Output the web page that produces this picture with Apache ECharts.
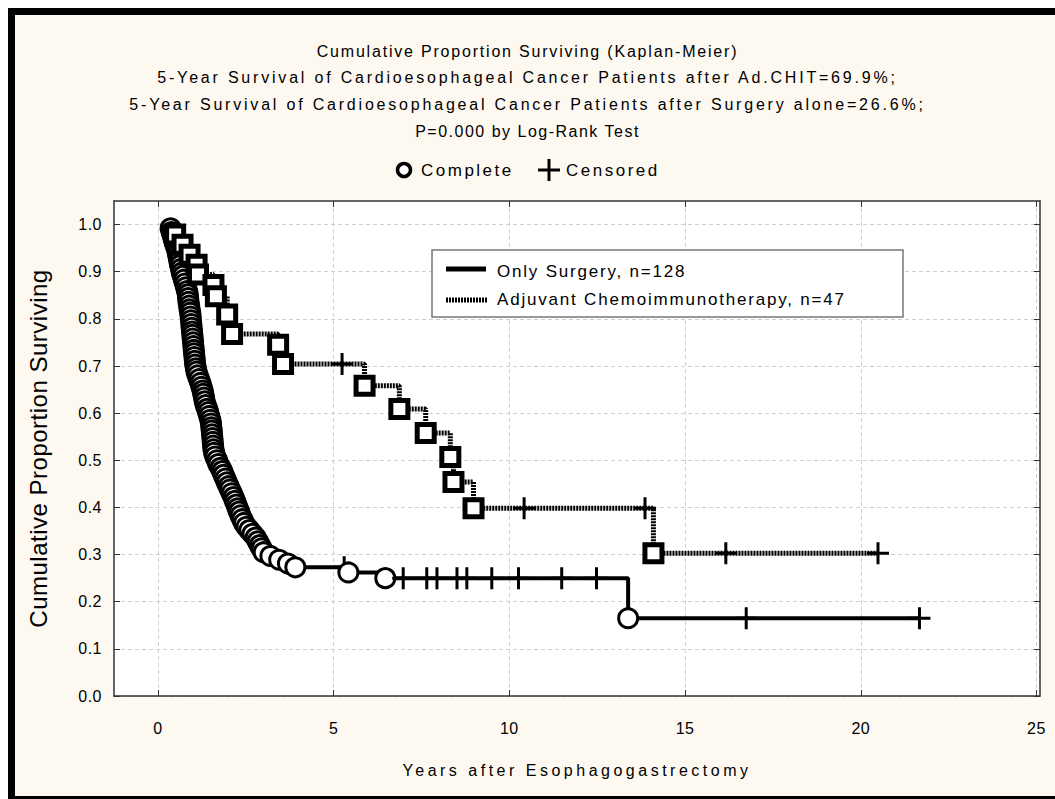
<!DOCTYPE html>
<html>
<head>
<meta charset="utf-8">
<script src="https://cdn.jsdelivr.net/npm/echarts@6/dist/echarts.min.js"></script>
<style>
  html, body { margin: 0; padding: 0; background: #fff; }
  #chart { width: 1055px; height: 799px; }
</style>
</head>
<body>
<div id="chart"></div>
<script>
// Only Surgery, n=128 (years, cumulative proportion surviving, 1 = censored)
const surgeryTime = [
  0.36, 0.39, 0.42, 0.45, 0.48, 0.52, 0.55, 0.57, 0.59, 0.61, 0.63, 0.66, 0.68, 0.71, 0.74, 0.77,
  0.80, 0.83, 0.85, 0.86, 0.87, 0.89, 0.90, 0.92, 0.93, 0.94, 0.95, 0.96, 0.97, 0.98, 0.99, 1.00,
  1.01, 1.02, 1.03, 1.04, 1.05, 1.06, 1.08, 1.10, 1.13, 1.17, 1.21, 1.24, 1.27, 1.29, 1.31, 1.33,
  1.36, 1.40, 1.43, 1.46, 1.49, 1.51, 1.52, 1.53, 1.54, 1.55, 1.56, 1.57, 1.58, 1.60, 1.63, 1.68,
  1.72, 1.78, 1.83, 1.87, 1.92, 1.96, 2.01, 2.05, 2.10, 2.15, 2.19, 2.23, 2.27, 2.31, 2.35, 2.40,
  2.45, 2.52, 2.60, 2.69, 2.78, 2.84, 2.90, 2.95, 3.01, 3.20, 3.45, 3.70, 3.91,
  5.30, 5.42, 6.47, 6.98, 7.65, 7.94, 8.51, 8.79, 9.50, 10.26, 11.49, 12.48, 13.38, 16.74, 21.67
];
const surgerySurv = [
  0.992, 0.984, 0.977, 0.969, 0.961, 0.953, 0.945, 0.938, 0.930, 0.922, 0.914, 0.906, 0.898, 0.891, 0.883, 0.875,
  0.867, 0.859, 0.852, 0.844, 0.836, 0.828, 0.820, 0.813, 0.805, 0.797, 0.789, 0.781, 0.773, 0.766, 0.758, 0.750,
  0.742, 0.734, 0.727, 0.719, 0.711, 0.703, 0.695, 0.688, 0.680, 0.672, 0.664, 0.656, 0.648, 0.641, 0.633, 0.625,
  0.617, 0.609, 0.602, 0.594, 0.586, 0.578, 0.570, 0.563, 0.555, 0.547, 0.539, 0.531, 0.523, 0.516, 0.508, 0.500,
  0.492, 0.484, 0.477, 0.469, 0.461, 0.453, 0.445, 0.438, 0.430, 0.422, 0.414, 0.406, 0.398, 0.391, 0.383, 0.375,
  0.367, 0.359, 0.352, 0.344, 0.336, 0.328, 0.320, 0.313, 0.305, 0.297, 0.289, 0.281, 0.273,
  0.273, 0.262, 0.250, 0.250, 0.250, 0.250, 0.250, 0.250, 0.250, 0.250, 0.250, 0.250, 0.165, 0.165, 0.165
];
const surgeryCensored = [
  0, 0, 0, 0, 0, 0, 0, 0, 0, 0, 0, 0, 0, 0, 0, 0,
  0, 0, 0, 0, 0, 0, 0, 0, 0, 0, 0, 0, 0, 0, 0, 0,
  0, 0, 0, 0, 0, 0, 0, 0, 0, 0, 0, 0, 0, 0, 0, 0,
  0, 0, 0, 0, 0, 0, 0, 0, 0, 0, 0, 0, 0, 0, 0, 0,
  0, 0, 0, 0, 0, 0, 0, 0, 0, 0, 0, 0, 0, 0, 0, 0,
  0, 0, 0, 0, 0, 0, 0, 0, 0, 0, 0, 0, 0,
  1, 0, 0, 1, 1, 1, 1, 1, 1, 1, 1, 1, 0, 1, 1
];

// Adjuvant Chemoimmunotherapy, n=47
const adjuvantTime = [
  0.49, 0.70, 0.90, 1.10, 1.14, 1.58, 1.65, 1.97, 2.11, 3.42, 3.56, 5.24,
  5.88, 6.87, 7.62, 8.32, 8.41, 8.98, 10.42, 13.86, 14.10, 16.16, 20.49
];
const adjuvantSurv = [
  0.979, 0.957, 0.936, 0.915, 0.894, 0.872, 0.848, 0.809, 0.768, 0.745, 0.704, 0.704,
  0.658, 0.609, 0.558, 0.507, 0.454, 0.398, 0.398, 0.398, 0.303, 0.303, 0.303
];
const adjuvantCensored = [
  0, 0, 0, 0, 0, 0, 0, 0, 0, 0, 0, 1,
  0, 0, 0, 0, 0, 0, 1, 1, 0, 1, 1
];

const xTicks = [0, 5, 10, 15, 20, 25];
const yTicks = [0, 0.1, 0.2, 0.3, 0.4, 0.5, 0.6, 0.7, 0.8, 0.9, 1.0];

const titleLines = [
  'Cumulative Proportion Surviving (Kaplan-Meier)',
  '5-Year Survival of Cardioesophageal Cancer Patients after Ad.CHIT=69.9%;',
  '5-Year Survival of Cardioesophageal Cancer Patients after Surgery alone=26.6%;',
  'P=0.000 by Log-Rank Test'
];

const FONT = 'Liberation Sans, Arial, sans-serif';
const PLUS = 'path://M9.5,0h3v9.5h9.5v3h-9.5v9.5h-3v-9.5h-9.5v-3h9.5z';

function points(time, surv, censored, eventSymbol) {
  return time.map((t, i) => censored[i]
    ? { value: [t, surv[i]], symbol: PLUS, symbolSize: 22, itemStyle: { color: '#000', borderWidth: 0 } }
    : { value: [t, surv[i]], symbol: eventSymbol });
}

const chart = echarts.init(document.getElementById('chart'), null, { renderer: 'svg' });

const axisText = { color: '#000', fontFamily: FONT, fontSize: 16 };
const frameAxis = {
  axisLine: { onZero: false, lineStyle: { color: '#333', width: 1.5 } },
  axisLabel: { show: false },
  splitLine: { show: false }
};

chart.setOption({
  animation: false,
  backgroundColor: '#fff',
  title: {
    text: titleLines.join('\n'),
    left: 'center',
    top: 33,
    textStyle: { fontFamily: FONT, fontSize: 16, fontWeight: 'normal', color: '#000', lineHeight: 26.6 }
  },
  grid: { left: 114, right: 15, top: 201, bottom: 103, show: true, backgroundColor: '#fff', borderWidth: 0 },
  xAxis: [{
    type: 'value', min: -1.25, max: 25.1, position: 'bottom',
    name: 'Years after Esophagogastrectomy', nameLocation: 'middle', nameGap: 66,
    nameTextStyle: { ...axisText },
    axisLine: { onZero: false, lineStyle: { color: '#333', width: 1.5 } },
    axisTick: { inside: true, length: 6, customValues: xTicks, lineStyle: { color: '#333' } },
    axisLabel: { customValues: xTicks, margin: 24, ...axisText },
    splitLine: { show: true, lineStyle: { color: '#cfcfcf', type: [4, 3] } }
  }, {
    type: 'value', min: -1.25, max: 25.1, position: 'top', ...frameAxis,
    axisTick: { inside: true, length: 6, customValues: xTicks, lineStyle: { color: '#333' } }
  }],
  yAxis: [{
    type: 'value', min: 0, max: 1.05, position: 'left',
    name: 'Cumulative Proportion Surviving', nameLocation: 'middle', nameGap: 64,
    nameTextStyle: { color: '#000', fontFamily: FONT, fontSize: 24 },
    axisLine: { onZero: false, lineStyle: { color: '#333', width: 1.5 } },
    axisTick: { inside: true, length: 6, customValues: yTicks, lineStyle: { color: '#333' } },
    axisLabel: { customValues: yTicks, margin: 12, formatter: (v) => v.toFixed(1), ...axisText },
    splitLine: { show: true, lineStyle: { color: '#cfcfcf', type: [4, 3] } }
  }, {
    type: 'value', min: 0, max: 1.05, position: 'right', ...frameAxis,
    axisTick: { inside: true, length: 6, customValues: yTicks, lineStyle: { color: '#333' } }
  }],
  series: [{
    name: 'Only Surgery, n=128',
    type: 'line',
    step: 'end',
    showAllSymbol: true,
    symbolSize: 19,
    lineStyle: { color: '#000', width: 4 },
    itemStyle: { color: '#fff', borderColor: '#000', borderWidth: 3 },
    z: 3,
    data: points(surgeryTime, surgerySurv, surgeryCensored, 'circle')
  }, {
    name: 'Adjuvant Chemoimmunotherapy, n=47',
    type: 'line',
    step: 'end',
    showAllSymbol: true,
    symbolSize: 17,
    lineStyle: { color: '#000', width: 5, type: [2, 1] },
    itemStyle: { color: '#fff', borderColor: '#000', borderWidth: 5 },
    z: 4,
    data: points(adjuvantTime, adjuvantSurv, adjuvantCensored, 'rect')
  }],
  graphic: [
    // outer frame
    { type: 'rect', z: -10, silent: true,
      shape: { x: 11.5, y: 11.5, width: 1052, height: 788 },
      style: { fill: '#fdf9f1', stroke: '#000', lineWidth: 7 } },
    // Complete / Censored key
    { type: 'circle', shape: { cx: 404, cy: 170, r: 6.5 },
      style: { fill: '#fff', stroke: '#000', lineWidth: 3.5 } },
    { type: 'text', x: 421, y: 170,
      style: { text: 'Complete', font: '17px ' + FONT, fill: '#000', textVerticalAlign: 'middle' } },
    { type: 'rect', shape: { x: 538, y: 168.5, width: 22, height: 3 }, style: { fill: '#000' } },
    { type: 'rect', shape: { x: 547.5, y: 159, width: 3, height: 22 }, style: { fill: '#000' } },
    { type: 'text', x: 566, y: 170,
      style: { text: 'Censored', font: '17px ' + FONT, fill: '#000', textVerticalAlign: 'middle' } },
    // series legend box
    { type: 'rect', z: 10, shape: { x: 432, y: 250, width: 471, height: 67 },
      style: { fill: '#fff', stroke: '#777', lineWidth: 1.5 } },
    { type: 'line', z: 11, shape: { x1: 446, y1: 269, x2: 486, y2: 269 },
      style: { stroke: '#000', lineWidth: 5 } },
    { type: 'text', z: 11, x: 497, y: 271,
      style: { text: 'Only Surgery, n=128', font: '17px ' + FONT, fill: '#000', textVerticalAlign: 'middle' } },
    { type: 'line', z: 11, shape: { x1: 446, y1: 300, x2: 488, y2: 300 },
      style: { stroke: '#000', lineWidth: 5, lineDash: [2, 1] } },
    { type: 'text', z: 11, x: 497, y: 299,
      style: { text: 'Adjuvant Chemoimmunotherapy, n=47', font: '17px ' + FONT, fill: '#000', textVerticalAlign: 'middle' } }
  ]
});

// the original was drawn with wide letter spacing
const spacing = {
  [titleLines[0]]: '1.8px',
  [titleLines[1]]: '2.8px',
  [titleLines[2]]: '2.8px',
  [titleLines[3]]: '1.5px',
  'Years after Esophagogastrectomy': '3.5px',
  'Cumulative Proportion Surviving': '0.5px',
  'Complete': '2.5px',
  'Censored': '2.5px'
};
document.querySelectorAll('#chart text').forEach((el) => {
  const s = el.textContent;
  el.style.letterSpacing = spacing[s] || (/^[\d.]+$/.test(s) ? '0.5px' : '1.8px');
});
</script>
</body>
</html>
